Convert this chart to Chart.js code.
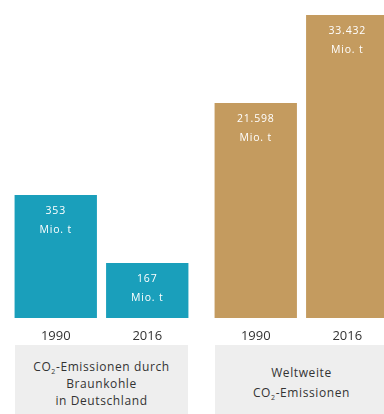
<!DOCTYPE html>
<html lang="de">
<head>
    <meta charset="UTF-8">
    <title>CO2-Emissionen</title>
    <script src="https://cdn.jsdelivr.net/npm/chart.js"></script>
    <style>
        html, body {
            margin: 0;
            padding: 0;
            background: #fff;
            overflow: hidden;
            width: 384px;
            height: 414px;
            font-family: "Open Sans", Roboto, sans-serif;
        }
        .panel {
            position: absolute;
            top: 0;
            width: 200px;
            height: 345px;
        }
        .caption {
            position: absolute;
            top: 345px;
            width: 173px;
            height: 80px;
            background: #eeeeee;
            color: #333;
            font-size: 12px;
            line-height: 17px;
            text-align: center;
            letter-spacing: 0.6px;
        }
        .caption sub { font-size: 7px; line-height: 0; }
    </style>
</head>
<body>

    <div class="panel" style="left:0"><canvas id="lignite"></canvas></div>
    <div class="panel" style="left:200px"><canvas id="world"></canvas></div>

    <div class="caption" style="left:15px; padding-top:13px; height:67px">
        CO<sub>2</sub>-Emissionen durch<br>Braunkohle<br>in Deutschland
    </div>
    <div class="caption" style="left:215px; padding-top:18px; height:62px; line-height:20px">
        Weltweite<br>CO<sub>2</sub>-Emissionen
    </div>

    <script>
        const years = ["1990", "2016"];
        const ligniteValues = [353, 167];     // Mio. t, Braunkohle Deutschland
        const worldValues = [21598, 33432];   // Mio. t, weltweit

        // the bars are not drawn to a common zero, so each axis gets its own floor
        const ligniteMin = 17, ligniteMax = 886;
        const worldMin = -7315, worldMax = 35449;

        function formatDe(v) {
            return String(v).replace(/\B(?=(\d{3})+(?!\d))/g, ".");
        }

        // white value label at the top of each bar
        const valueLabels = {
            id: "valueLabels",
            afterDatasetsDraw(chart) {
                const ctx = chart.ctx;
                const meta = chart.getDatasetMeta(0);
                const data = chart.data.datasets[0].data;
                ctx.save();
                ctx.fillStyle = "#ffffff";
                ctx.textAlign = "center";
                ctx.textBaseline = "middle";
                ctx.font = "10.5px 'Open Sans'";
                ctx.letterSpacing = "0.8px";
                meta.data.forEach((bar, i) => {
                    ctx.fillText(formatDe(data[i]), bar.x, bar.y + 16);
                    ctx.fillText("Mio. t", bar.x, bar.y + 35);
                });
                ctx.restore();
            }
        };

        function renderChart(id, values, color, yMin, yMax) {
            const ctx = document.getElementById(id).getContext("2d");
            new Chart(ctx, {
                type: "bar",
                data: {
                    labels: years,
                    datasets: [{
                        data: values,
                        backgroundColor: color,
                        base: yMin,
                        barPercentage: 0.9,
                        categoryPercentage: 1
                    }]
                },
                options: {
                    responsive: true,
                    maintainAspectRatio: false,
                    animation: false,
                    layout: {
                        padding: { left: 10, right: 7, top: 0, bottom: 0 }
                    },
                    plugins: {
                        legend: { display: false },
                        tooltip: { enabled: false }
                    },
                    scales: {
                        x: {
                            grid: { display: false },
                            border: { display: false },
                            ticks: {
                                color: "#333",
                                padding: 2,
                                font: { family: "'Open Sans'", size: 13 }
                            },
                            afterFit(scale) { scale.height = 27; }
                        },
                        y: {
                            display: false,
                            min: yMin,
                            max: yMax
                        }
                    }
                },
                plugins: [valueLabels]
            });
        }

        renderChart("lignite", ligniteValues, "#1a9fbb", ligniteMin, ligniteMax);
        renderChart("world", worldValues, "#c49b5f", worldMin, worldMax);
    </script>

</body>
</html>
